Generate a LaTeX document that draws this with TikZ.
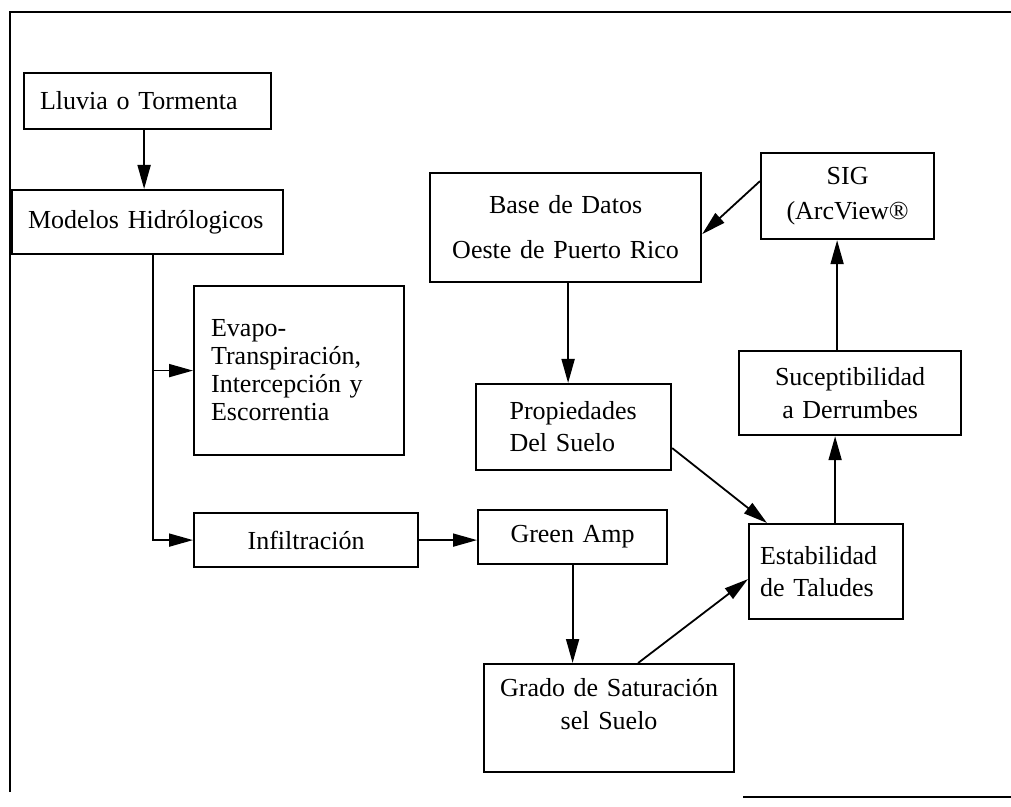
\documentclass[tikz,border=0pt]{standalone}
\usepackage{fontspec}
\setmainfont{Liberation Serif}
\usetikzlibrary{arrows.meta}

\tikzset{
   caja/.style={draw, line width=1.1pt, anchor=north west, inner ysep=0pt,
      font=\fontsize{13}{16}\selectfont},
   flecha/.style={line width=0.9pt, -{Triangle[length=12pt,width=6.5pt]}},
}

\begin{document}
\begin{tikzpicture}[x=0.5pt,y=-0.5pt]
   \useasboundingbox (0,0) rectangle (1011,807);
   %marco
   \draw[line width=1pt] (10,792) -- (10,12) -- (1011,12);
   \draw[line width=1pt] (743,797) -- (1011,797);
   %cajas columna izquierda
   \node[caja, align=left, inner xsep=8pt, text width=107.5pt, minimum height=28pt] (lluvia) at (23,72) {Lluvia o Tormenta};
   \node[caja, align=left, inner xsep=8pt, text width=119.5pt, minimum height=32pt] (modelos) at (11,189) {Modelos Hidrólogicos};
   \node[caja, align=left, inner xsep=8.5pt, text width=88pt, minimum height=84.5pt,
      font=\fontsize{13}{14}\selectfont] (evapo) at (193,285) {Evapo-\\Transpiración,\\Intercepción y\\Escorrentia};
   \node[caja, align=center, inner xsep=0pt, text width=112pt, minimum height=27pt] (infil) at (193,512) {Infiltración};
   %cajas centro
   \node[caja, align=center, inner xsep=0pt, text width=135.5pt, minimum height=54.5pt,
      font=\fontsize{13}{22.5}\selectfont] (base) at (429,172) {Base de Datos\\Oeste de Puerto Rico};
   \node[caja, align=left, inner xsep=16.75pt, text width=64pt, minimum height=43pt] (prop) at (475,383) {Propiedades\\Del Suelo};
   \node[caja, align=center, inner xsep=0pt, text width=94.5pt, minimum height=27pt] (green) at (477,509) {Green Amp};
   \node[caja, align=center, inner xsep=0pt, text width=125pt, minimum height=54pt, text depth=30.5pt,
      font=\fontsize{13}{16.5}\selectfont] (grado) at (483,663) {Grado de Saturación\\sel Suelo};
   %cajas derecha
   \node[caja, align=center, inner xsep=0pt, text width=86.5pt, minimum height=43pt,
      font=\fontsize{13}{17.5}\selectfont] (sig) at (760,152) {SIG\\(ArcView®};
   \node[caja, align=center, inner xsep=0pt, text width=111pt, minimum height=42pt,
      font=\fontsize{13}{16.5}\selectfont] (sucep) at (738,350) {Suceptibilidad\\a Derrumbes};
   \node[caja, align=left, inner xsep=5.5pt, text width=66pt, minimum height=47.5pt] (estab) at (748,523) {Estabilidad\\de Taludes};
   %flechas
   \draw[flecha] ([xshift=-1.75pt]lluvia.south) -- ([xshift=-1.75pt]lluvia.south |- modelos.north);
   \coordinate (bajada) at ([xshift=2.75pt]modelos.south);
   \draw[flecha] (bajada) |- (infil.west);
   \draw[flecha] (bajada |- evapo.west) -- (evapo.west);
   \draw[flecha] (infil.east) -- (infil.east -| green.west);
   \draw[flecha] (green.south) -- (green.south |- grado.north);
   \draw[flecha] ([xshift=14.5pt]grado.north) -- ([yshift=-3.75pt]estab.west);
   \draw[flecha] ([yshift=-10.5pt]prop.east) -- ([xshift=9.5pt]estab.north west);
   \draw[flecha] ([xshift=1.25pt]base.south) -- ([xshift=1.25pt]base.south |- prop.north);
   \draw[flecha] ([xshift=4.5pt]estab.north) -- ([xshift=4.5pt]estab.north |- sucep.south);
   \draw[flecha] ([xshift=-6.5pt]sucep.north) -- ([xshift=-6.5pt]sucep.north |- sig.south);
   \draw[flecha] ([yshift=7.5pt]sig.west) -- ([yshift=-3.25pt]base.east);
\end{tikzpicture}
\end{document}
